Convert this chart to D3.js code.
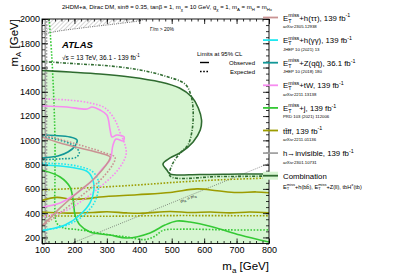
<!DOCTYPE html>
<html>
<head>
<meta charset="utf-8">
<script src="https://cdn.jsdelivr.net/npm/d3@7"></script>
<style>
  body { margin: 0; background: #fff; }
  svg { display: block; font-family: "Liberation Sans", Arial, Helvetica, sans-serif; }
</style>
</head>
<body>
<div id="chart"></div>
<script>
// ticks
const maTicks = [100, 200, 300, 400, 500, 600, 700, 800];
const mATicks = [200, 400, 600, 800, 1000, 1200, 1400, 1600, 1800, 2000];

// [m_a, m_A] contour points
const combObs = [[100,1576],[186,1563],[279,1547],[371,1522],[464,1481],[524,1431],[562,1357],[582,1267],[592,1168],[588,1085],[566,987],[530,904],[495,855],[473,805],[485,756],[495,723],[587,719],[711,723],[800,723]];
const combExp = [[100,1650],[217,1629],[310,1613],[402,1580],[479,1530],[541,1464],[559,1374],[566,1250],[563,1085],[550,962],[526,896],[501,797],[495,706],[649,702],[800,706]];
const tautauObs = [[100,1028],[156,978],[217,937],[279,896],[310,863],[304,822],[263,690],[208,566],[156,443],[125,360],[103,302]];
const tautauExp = [[100,1050],[200,975],[290,900],[325,860],[318,800],[275,660],[215,530],[160,410],[125,340],[100,300]];
const gamgamObs = [[100,797],[156,789],[202,772],[242,739],[257,673],[260,591],[248,484],[217,385],[171,302],[125,269],[100,253]];
const gamgamExp = [[100,812],[160,806],[215,785],[255,745],[272,680],[274,600],[262,490],[232,390],[185,310],[135,272],[100,262]];
const zqqObs = [[100,1044],[140,1040],[186,1028],[208,1003],[202,954],[180,904],[149,871],[100,855]];
const zqqExp = [[100,1030],[150,1005],[195,960],[215,900],[205,860],[160,848],[100,840]];
const twObs = [[100,1283],[177,1275],[239,1258],[254,1275],[279,1250],[300,1209],[310,1085],[316,1028],[331,1044],[353,1028],[350,995],[328,1011],[319,962],[310,839],[288,773],[257,673],[208,566],[156,484],[103,451]];
const twExp = [[100,1341],[177,1333],[248,1308],[294,1267],[325,1168],[341,1061],[356,962],[359,880],[334,756],[279,616],[226,508],[177,426],[100,368]];
const jetObs = [[100,756],[156,698],[186,616],[196,508],[202,385],[217,302],[248,245],[310,220],[362,195],[433,237],[479,302],[516,335],[556,327],[627,286],[711,220],[800,162]];
const jetExp = [[122,2000],[130,1700],[137,1300],[140,1000],[140,700],[140,420],[145,320],[165,280],[208,265],[257,245],[310,220],[362,204],[418,182],[448,210],[473,258],[526,268],[680,262],[800,262]];
const ttffObsHi = [[100,505],[146,530],[190,515],[239,520],[279,533],[393,552],[495,570],[578,600],[640,585],[700,570],[760,575],[800,568]];
const ttffExpHi = [[100,591],[250,610],[393,632],[526,657],[650,675],[800,690]];
const ttffObsLo = [[100,410],[180,400],[257,405],[300,412],[362,402],[411,400],[495,414],[560,405],[620,410],[680,402],[740,410],[800,403]];
const ttffExpLo = [[100,378],[300,375],[500,380],[800,378]];
const hinvObs = [[110,150],[110,2000]];
const hinvExp = [[114,150],[114,2000]];
const widthBound = [[100,1875],[112,1880],[150,1900],[250,1935],[330,1960],[400,1985],[420,2000]];
const diagLine = [[190,150],[800,810]];

const width = 407, height = 275;
const svg = d3.select('#chart').append('svg')
    .attr('width', width).attr('height', height);

const x = d3.scaleLinear().domain([100, 800]).range([42, 269]);
const y = d3.scaleLinear().domain([150, 2000]).range([243.5, 19]);

const defs = svg.append('defs');
defs.append('clipPath').attr('id', 'plotclip')
  .append('rect').attr('x', x(100)).attr('y', y(2000))
    .attr('width', x(800) - x(100)).attr('height', y(150) - y(2000));
const hatch = defs.append('pattern').attr('id', 'hatch')
    .attr('patternUnits', 'userSpaceOnUse').attr('width', 3).attr('height', 3)
    .attr('patternTransform', 'rotate(45)');
hatch.append('line').attr('x1', 0).attr('y1', 0).attr('x2', 0).attr('y2', 3)
    .attr('stroke', '#888').attr('stroke-width', 0.7);

const line = d3.line().x(d => x(d[0])).y(d => y(d[1])).curve(d3.curveCatmullRom.alpha(0.5));
const plot = svg.append('g').attr('clip-path', 'url(#plotclip)');

// excluded area: full plane minus allowed region above the observed contour
plot.append('rect').attr('x', x(100)).attr('y', y(2000))
    .attr('width', x(800) - x(100)).attr('height', y(150) - y(2000))
    .attr('fill', '#d7f5d2');
plot.append('path')
    .attr('d', line(combObs) + `L${x(800)},${y(2000)}L${x(100)},${y(2000)}Z`)
    .attr('fill', '#fff');

// width > 20% region
plot.append('path')
    .attr('d', line(widthBound) + `L${x(100)},${y(2000)}Z`)
    .attr('fill', 'url(#hatch)');
plot.append('path').attr('d', line(widthBound))
    .attr('fill', 'none').attr('stroke', '#333').attr('stroke-width', 0.7)
    .attr('stroke-dasharray', '1,1.2');

// m_A = m_a line
plot.append('path').attr('d', d3.line().x(d => x(d[0])).y(d => y(d[1]))(diagLine))
    .attr('fill', 'none').attr('stroke', '#444').attr('stroke-width', 0.6)
    .attr('stroke-dasharray', '1,1.2');

const curves = [
  { d: hinvObs, c: '#a3a3a3', dash: null },
  { d: hinvExp, c: '#a3a3a3', dash: '1.6,1.6' },
  { d: ttffObsHi, c: '#9c9c00', dash: null },
  { d: ttffObsLo, c: '#9c9c00', dash: null },
  { d: ttffExpHi, c: '#9c9c00', dash: '1.6,1.6' },
  { d: ttffExpLo, c: '#9c9c00', dash: '1.6,1.6' },
  { d: jetObs, c: '#35c935', dash: null },
  { d: jetExp, c: '#35c935', dash: '1.6,1.6' },
  { d: twObs, c: '#f78cf0', dash: null },
  { d: twExp, c: '#f78cf0', dash: '1.6,1.6' },
  { d: zqqObs, c: '#129797', dash: null },
  { d: zqqExp, c: '#129797', dash: '1.6,1.6' },
  { d: gamgamObs, c: '#1ee8f0', dash: null },
  { d: gamgamExp, c: '#1ee8f0', dash: '1.6,1.6' },
  { d: tautauObs, c: '#c99393', dash: null },
  { d: tautauExp, c: '#c99393', dash: '1.6,1.6' },
  { d: combObs, c: '#2f6b30', dash: null },
  { d: combExp, c: '#2f6b30', dash: '3,1.5,1,1.5' }
];
plot.selectAll('path.contour').data(curves).join('path')
    .attr('class', 'contour')
    .attr('d', d => line(d.d))
    .attr('fill', 'none')
    .attr('stroke', d => d.c)
    .attr('stroke-width', 1.6)
    .attr('stroke-dasharray', d => d.dash);

// axes, ATLAS style ticks inward on all sides
const minorX = d3.range(100, 801, 20);
const minorY = d3.range(150, 2001, 50);
function styleAxis(g) {
  g.select('.domain').remove();
  g.selectAll('line').attr('stroke', '#000').attr('stroke-width', 0.8);
  g.selectAll('text').attr('font-size', '9px').attr('fill', '#000');
}
svg.append('g').attr('transform', `translate(0,${y(150)})`)
  .call(d3.axisBottom(x).tickValues(maTicks).tickSize(-5).tickPadding(3).tickFormat(d3.format('d'))).call(styleAxis);
svg.append('g').attr('transform', `translate(0,${y(150)})`)
  .call(d3.axisBottom(x).tickValues(minorX).tickSize(-2.5).tickFormat('')).call(styleAxis);
svg.append('g').attr('transform', `translate(0,${y(2000)})`)
  .call(d3.axisTop(x).tickValues(maTicks).tickSize(-5).tickFormat('')).call(styleAxis);
svg.append('g').attr('transform', `translate(0,${y(2000)})`)
  .call(d3.axisTop(x).tickValues(minorX).tickSize(-2.5).tickFormat('')).call(styleAxis);
svg.append('g').attr('transform', `translate(${x(100)},0)`)
  .call(d3.axisLeft(y).tickValues(mATicks).tickSize(-6).tickPadding(2).tickFormat(d3.format('d'))).call(styleAxis);
svg.append('g').attr('transform', `translate(${x(100)},0)`)
  .call(d3.axisLeft(y).tickValues(minorY).tickSize(-3).tickFormat('')).call(styleAxis);
svg.append('g').attr('transform', `translate(${x(800)},0)`)
  .call(d3.axisRight(y).tickValues(mATicks).tickSize(-6).tickFormat('')).call(styleAxis);
svg.append('g').attr('transform', `translate(${x(800)},0)`)
  .call(d3.axisRight(y).tickValues(minorY).tickSize(-3).tickFormat('')).call(styleAxis);
svg.append('rect').attr('x', x(100)).attr('y', y(2000))
    .attr('width', x(800) - x(100)).attr('height', y(150) - y(2000))
    .attr('fill', 'none').attr('stroke', '#000').attr('stroke-width', 0.9);

// axis titles
const xt = svg.append('text').attr('x', x(800)).attr('y', 270)
    .attr('text-anchor', 'end').attr('font-size', '11.5px');
xt.append('tspan').text('m');
xt.append('tspan').attr('font-size', '8px').attr('dy', 2.5).text('a');
xt.append('tspan').attr('dy', -2.5).text(' [GeV]');
const yt = svg.append('text').attr('transform', `translate(18,${y(2000)}) rotate(-90)`)
    .attr('text-anchor', 'end').attr('font-size', '11.5px');
yt.append('tspan').text('m');
yt.append('tspan').attr('font-size', '8px').attr('dy', 2.5).text('A');
yt.append('tspan').attr('dy', -2.5).text(' [GeV]');

// header and labels
svg.append('text').attr('x', 62).attr('y', 9).attr('font-size', '6px')
  .html('2HDM+a, Dirac DM, sin\u03b8 = 0.35, tan\u03b2 = 1, m<tspan font-size="4.3px" dy="1.5">\u03c7</tspan><tspan dy="-1.5"> = 10 GeV, g</tspan><tspan font-size="4.3px" dy="1.5">\u03c7</tspan><tspan dy="-1.5"> = 1, m</tspan><tspan font-size="4.3px" dy="1.5">A</tspan><tspan dy="-1.5"> = m</tspan><tspan font-size="4.3px" dy="1.5">H</tspan><tspan dy="-1.5"> = m</tspan><tspan font-size="4.3px" dy="1.5">H\u00b1</tspan>');
svg.append('text').attr('x', 150).attr('y', 31).attr('font-size', '5px')
  .text('\u0393/m > 20%');
svg.append('text').attr('x', 62).attr('y', 48).attr('font-size', '9.5px')
  .attr('font-weight', 'bold').attr('font-style', 'italic').text('ATLAS');
svg.append('text').attr('x', 62).attr('y', 60).attr('font-size', '6.5px')
  .html('\u221as = 13 TeV, 36.1 - 139 fb<tspan font-size="4.5px" dy="-3">-1</tspan>');
svg.append('text').attr('x', 197).attr('y', 56).attr('font-size', '6px').text('Limits at 95% CL');
svg.append('line').attr('x1', 200).attr('x2', 209).attr('y1', 62.5).attr('y2', 62.5)
    .attr('stroke', '#000').attr('stroke-width', 1.4);
svg.append('text').attr('x', 255).attr('y', 65).attr('text-anchor', 'end')
    .attr('font-size', '6px').text('Observed');
svg.append('line').attr('x1', 200).attr('x2', 209).attr('y1', 71.5).attr('y2', 71.5)
    .attr('stroke', '#000').attr('stroke-width', 1.4).attr('stroke-dasharray', '1.6,1.6');
svg.append('text').attr('x', 255).attr('y', 74).attr('text-anchor', 'end')
    .attr('font-size', '6px').text('Expected');
const ang = Math.atan2(y(diagLine[1][1]) - y(diagLine[0][1]), x(diagLine[1][0]) - x(diagLine[0][0])) * 180 / Math.PI;
svg.append('text').attr('transform', `translate(181,203) rotate(${ang})`)
  .attr('font-size', '4.5px')
  .html('m<tspan font-size="3.3px" dy="1">A</tspan><tspan dy="-1"> = m</tspan><tspan font-size="3.3px" dy="1">a</tspan>');

// legend
const etm = 'E<tspan font-size="5.4px" dy="2">T</tspan><tspan font-size="5.4px" dx="-3.3" dy="-5.5">miss</tspan><tspan dy="3.5">';
const fb = '<tspan font-size="5.4px" dy="-3.2">-1</tspan>';
const legendItems = [
  { c: '#c99393', label: etm + '+h(\u03c4\u03c4), 139 fb</tspan>' + fb, ref: 'arXiv:2305.12938' },
  { c: '#1ee8f0', label: etm + '+h(\u03b3\u03b3), 139 fb</tspan>' + fb, ref: 'JHEP 10 (2021) 13' },
  { c: '#129797', label: etm + '+Z(qq\u0304), 36.1 fb</tspan>' + fb, ref: 'JHEP 10 (2018) 180' },
  { c: '#f78cf0', label: etm + '+tW, 139 fb</tspan>' + fb, ref: 'arXiv:2211.13138' },
  { c: '#35c935', label: etm + '+j, 139 fb</tspan>' + fb, ref: 'PRD 103 (2021) 112006' },
  { c: '#9c9c00', label: 'tt\u0304ff, 139 fb' + fb, ref: 'arXiv:2211.01136' },
  { c: '#a3a3a3', label: 'h\u2192invisible, 139 fb' + fb, ref: 'arXiv:2301.10731' }
];
const lg = svg.append('g').attr('transform', 'translate(263,17.5)');
const rows = lg.selectAll('g').data(legendItems).join('g')
    .attr('transform', (d, i) => `translate(0,${i * 22.6})`);
rows.append('line').attr('x1', 0).attr('x2', 15).attr('y1', 0).attr('y2', 0)
    .attr('stroke', d => d.c).attr('stroke-width', 1.8);
rows.append('text').attr('x', 20).attr('y', 3).attr('font-size', '7.8px').html(d => d.label);
rows.append('text').attr('x', 20).attr('y', 10.5).attr('font-size', '4.3px').text(d => d.ref);
const cg = lg.append('g').attr('transform', `translate(0,${7 * 22.6})`);
cg.append('rect').attr('x', 0).attr('y', -4).attr('width', 15).attr('height', 8).attr('fill', '#d7f5d2');
cg.append('line').attr('x1', 0).attr('x2', 15).attr('stroke', '#2f6b30').attr('stroke-width', 1.8);
cg.append('text').attr('x', 20).attr('y', 3).attr('font-size', '7.8px').text('Combination');
cg.append('text').attr('x', 20).attr('y', 13).attr('font-size', '5.6px')
  .html('E<tspan font-size="4px" dy="1.5">T</tspan><tspan font-size="4px" dx="-2.4" dy="-4">miss</tspan><tspan dy="2.5">+h(bb\u0304), E</tspan><tspan font-size="4px" dy="1.5">T</tspan><tspan font-size="4px" dx="-2.4" dy="-4">miss</tspan><tspan dy="2.5">+Z(ll), tbH</tspan><tspan font-size="4px" dy="-2.5">\u00b1</tspan><tspan dy="2.5">(tb)</tspan>');
</script>
</body>
</html>
